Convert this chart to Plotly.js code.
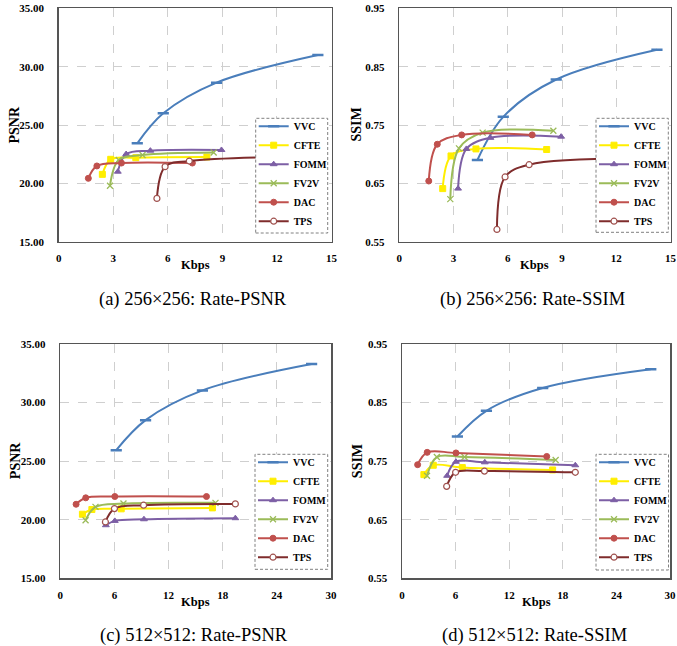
<!DOCTYPE html>
<html>
<head>
<meta charset="utf-8">
<script src="https://cdn.plot.ly/plotly-3.0.1.min.js"></script>
<style>
  html, body { margin: 0; padding: 0; background: #fff; }
  #chart { width: 677px; height: 646px; }
</style>
</head>
<body>
<div id="chart"></div>
<script>
// ---------------- DATA ----------------
const methods = ['VVC', 'CFTE', 'FOMM', 'FV2V', 'DAC', 'TPS'];

// 256x256 : bitrate (Kbps)
const kbps256_VVC  = [4.32, 5.75, 8.68, 14.25];
const kbps256_CFTE = [2.40, 2.86, 4.24, 8.15];
const kbps256_FOMM = [3.25, 3.71, 5.04, 8.95];
const kbps256_FV2V = [2.82, 3.30, 4.61, 8.52];
const kbps256_DAC  = [1.63, 2.10, 3.45, 7.35];
const kbps256_TPS  = [5.40, 5.85, 7.18, 13.5];

// 256x256 : PSNR
const psnr256_VVC  = [23.43, 26.00, 28.63, 31.00];
const psnr256_CFTE = [20.77, 22.06, 22.20, 22.26];
const psnr256_FOMM = [21.00, 22.51, 22.80, 22.86];
const psnr256_FV2V = [19.80, 22.00, 22.43, 22.65];
const psnr256_DAC  = [20.43, 21.49, 21.74, 21.74];
const psnr256_TPS  = [18.71, 21.43, 21.91, 22.30];

// 256x256 : SSIM
const ssim256_VVC  = [0.690, 0.764, 0.828, 0.879];
const ssim256_CFTE = [0.641, 0.697, 0.709, 0.708];
const ssim256_FOMM = [0.641, 0.709, 0.728, 0.730];
const ssim256_FV2V = [0.623, 0.710, 0.737, 0.740];
const ssim256_DAC  = [0.654, 0.717, 0.733, 0.733];
const ssim256_TPS  = [0.571, 0.661, 0.682, 0.692];

// 512x512 : bitrate (Kbps)
const kbps512_VVC  = [6.20, 9.45, 15.75, 27.85];
const kbps512_CFTE = [2.45, 3.50, 6.75, 16.86];
const kbps512_FOMM = [5.05, 6.04, 9.27, 19.40];
const kbps512_FV2V = [2.80, 3.90, 7.00, 17.20];
const kbps512_DAC  = [1.75, 2.82, 6.04, 16.20];
const kbps512_TPS  = [5.00, 6.00, 9.23, 19.40];

// 512x512 : PSNR
const psnr512_VVC  = [25.94, 28.50, 31.04, 33.29];
const psnr512_CFTE = [20.47, 20.87, 20.93, 21.01];
const psnr512_FOMM = [19.53, 19.90, 20.04, 20.13];
const psnr512_FV2V = [19.96, 21.10, 21.38, 21.44];
const psnr512_DAC  = [21.32, 21.87, 21.98, 21.98];
const psnr512_TPS  = [19.81, 20.95, 21.24, 21.35];

// 512x512 : SSIM
const ssim512_VVC  = [0.792, 0.836, 0.875, 0.907];
const ssim512_CFTE = [0.727, 0.743, 0.739, 0.735];
const ssim512_FOMM = [0.725, 0.749, 0.748, 0.743];
const ssim512_FV2V = [0.725, 0.757, 0.757, 0.752];
const ssim512_DAC  = [0.744, 0.765, 0.764, 0.758];
const ssim512_TPS  = [0.707, 0.731, 0.733, 0.731];

const captions = ['(a) 256×256: Rate-PSNR', '(b) 256×256: Rate-SSIM',
                  '(c) 512×512: Rate-PSNR', '(d) 512×512: Rate-SSIM'];
const yTitles = ['PSNR', 'SSIM', 'PSNR', 'SSIM'];
const xTitle = 'Kbps';

// ---------------- STYLES ----------------
const styles = {
  VVC:  {color: '#4A7EBB', symbol: 'line-ew', msize: 8, mline: '#4A7EBB', mfill: '#4A7EBB', mlw: 2.5},
  CFTE: {color: '#FFEE00', symbol: 'square', msize: 6, mline: '#FFEE00', mfill: '#FFEE00', mlw: 1},
  FOMM: {color: '#7D5FA5', symbol: 'triangle-up', msize: 6, mline: '#7D5FA5', mfill: '#7D5FA5', mlw: 1},
  FV2V: {color: '#9BBB59', symbol: 'x-thin', msize: 6, mline: '#9BBB59', mfill: '#9BBB59', mlw: 1.3},
  DAC:  {color: '#C0504D', symbol: 'circle', msize: 6, mline: '#C0504D', mfill: '#C0504D', mlw: 1},
  TPS:  {color: '#7F2C2C', symbol: 'circle', msize: 6, mline: '#A0524F', mfill: '#ffffff', mlw: 1.2}
};

const panelData = [
  {kb: {VVC: kbps256_VVC, CFTE: kbps256_CFTE, FOMM: kbps256_FOMM, FV2V: kbps256_FV2V, DAC: kbps256_DAC, TPS: kbps256_TPS},
   val: {VVC: psnr256_VVC, CFTE: psnr256_CFTE, FOMM: psnr256_FOMM, FV2V: psnr256_FV2V, DAC: psnr256_DAC, TPS: psnr256_TPS}},
  {kb: {VVC: kbps256_VVC, CFTE: kbps256_CFTE, FOMM: kbps256_FOMM, FV2V: kbps256_FV2V, DAC: kbps256_DAC, TPS: kbps256_TPS},
   val: {VVC: ssim256_VVC, CFTE: ssim256_CFTE, FOMM: ssim256_FOMM, FV2V: ssim256_FV2V, DAC: ssim256_DAC, TPS: ssim256_TPS}},
  {kb: {VVC: kbps512_VVC, CFTE: kbps512_CFTE, FOMM: kbps512_FOMM, FV2V: kbps512_FV2V, DAC: kbps512_DAC, TPS: kbps512_TPS},
   val: {VVC: psnr512_VVC, CFTE: psnr512_CFTE, FOMM: psnr512_FOMM, FV2V: psnr512_FV2V, DAC: psnr512_DAC, TPS: psnr512_TPS}},
  {kb: {VVC: kbps512_VVC, CFTE: kbps512_CFTE, FOMM: kbps512_FOMM, FV2V: kbps512_FV2V, DAC: kbps512_DAC, TPS: kbps512_TPS},
   val: {VVC: ssim512_VVC, CFTE: ssim512_CFTE, FOMM: ssim512_FOMM, FV2V: ssim512_FV2V, DAC: ssim512_DAC, TPS: ssim512_TPS}}
];

const W = 677, H = 646;
const px = v => v / W;
const py = v => 1 - v / H;

// plot-area pixel boxes [left, right, top, bottom]
const boxes = [
  [58.7, 331.5, 8.3, 241.7],
  [399.3, 670.5, 8.3, 241.7],
  [60.3, 331.0, 344.0, 578.3],
  [402.0, 670.0, 344.0, 578.3]
];
// legend frame pixel boxes [left, right, top, bottom]
const legendBoxes = [
  [255.7, 327.7, 118.3, 233.0],
  [596.0, 668.3, 118.3, 232.3],
  [255.0, 327.7, 454.3, 569.3],
  [596.0, 668.5, 454.3, 570.0]
];

const SERIF = "'Liberation Serif', serif";
const tickFont = {family: SERIF, size: 11, color: '#000', weight: 'bold'};

const traces = [];
const layout = {
  width: W, height: H,
  margin: {l: 0, r: 0, t: 0, b: 0},
  paper_bgcolor: '#fff', plot_bgcolor: '#fff',
  showlegend: true,
  annotations: [],
  shapes: [],
  font: {family: SERIF}
};

for (let p = 0; p < 4; p++) {
  const sfx = p === 0 ? '' : String(p + 1);
  const isSSIM = (p % 2 === 1);
  const is512 = p >= 2;
  const [l, r, t, b] = boxes[p];
  const legName = p === 0 ? 'legend' : 'legend' + (p + 1);

  methods.forEach(m => {
    const s = styles[m];
    traces.push({
      type: 'scatter', mode: 'lines+markers', name: m,
      x: panelData[p].kb[m], y: panelData[p].val[m],
      xaxis: 'x' + sfx, yaxis: 'y' + sfx,
      legend: legName,
      line: {color: s.color, width: 2, shape: 'spline', smoothing: 1},
      marker: {symbol: s.symbol, size: s.msize, color: s.mfill,
               line: {color: s.mline, width: s.mlw}},
      cliponaxis: true
    });
  });

  layout['xaxis' + sfx] = {
    domain: [px(l), px(r)], anchor: 'y' + sfx,
    range: is512 ? [0, 30] : [0, 15],
    tickmode: 'linear', tick0: 0, dtick: is512 ? 6 : 3,
    showgrid: true, gridcolor: '#cfcfcf', griddash: 'dash', gridwidth: 1,
    zeroline: false, showline: true, linecolor: '#555', linewidth: 1.5, mirror: true,
    ticks: '', tickfont: tickFont, ticklabelstandoff: 6, ticklabeloverflow: 'allow',
    fixedrange: true
  };
  layout['yaxis' + sfx] = {
    domain: [py(b), py(t)], anchor: 'x' + sfx,
    range: isSSIM ? [0.55, 0.95] : [15, 35],
    tickmode: 'linear', tick0: isSSIM ? 0.55 : 15, dtick: isSSIM ? 0.1 : 5,
    tickformat: '.2f',
    showgrid: true, gridcolor: '#cfcfcf', griddash: 'dash', gridwidth: 1,
    zeroline: false, showline: true, linecolor: '#555', linewidth: 1.5, mirror: true,
    ticks: '', tickfont: tickFont, ticklabelstandoff: 11, ticklabeloverflow: 'allow',
    fixedrange: true
  };

  const [bl, br, bt, bb] = legendBoxes[p];
  // dashed legend frame (white, covers lines passing behind the legend)
  layout.shapes.push({
    type: 'rect', xref: 'paper', yref: 'paper', layer: 'above',
    x0: px(bl), x1: px(br), y0: py(bb), y1: py(bt),
    fillcolor: '#ffffff', line: {color: '#808080', width: 1, dash: '3px,2px'}
  });
  layout[legName] = {
    x: px(bl - 2), y: py(bt - 6.6),
    xanchor: 'left', yanchor: 'top',
    bgcolor: 'rgba(0,0,0,0)', borderwidth: 0,
    font: {family: SERIF, size: 10, color: '#000', weight: 'bold'},
    itemwidth: 30, tracegroupgap: 0
  };

  const cx = (l + r) / 2;
  layout.annotations.push({
    text: xTitle, xref: 'paper', yref: 'paper',
    x: px(cx), y: py(b + 23.5), xanchor: 'center', yanchor: 'middle',
    showarrow: false, font: {family: SERIF, size: 12.5, color: '#000', weight: 'bold'}
  });
  const yx = [13.5, 355.5, 15, 357][p];
  layout.annotations.push({
    text: yTitles[p], xref: 'paper', yref: 'paper', textangle: -90,
    x: px(yx), y: py((t + b) / 2), xanchor: 'center', yanchor: 'middle',
    showarrow: false, font: {family: SERIF, size: 14, color: '#000', weight: 'bold'}
  });
  layout.annotations.push({
    text: captions[p], xref: 'paper', yref: 'paper',
    x: px(cx - 2), y: py(b + 57.5), xanchor: 'center', yanchor: 'middle',
    showarrow: false, font: {family: SERIF, size: 18.5, color: '#000'}
  });
}

Plotly.newPlot('chart', traces, layout, {staticPlot: true, displayModeBar: false});
</script>
</body>
</html>
